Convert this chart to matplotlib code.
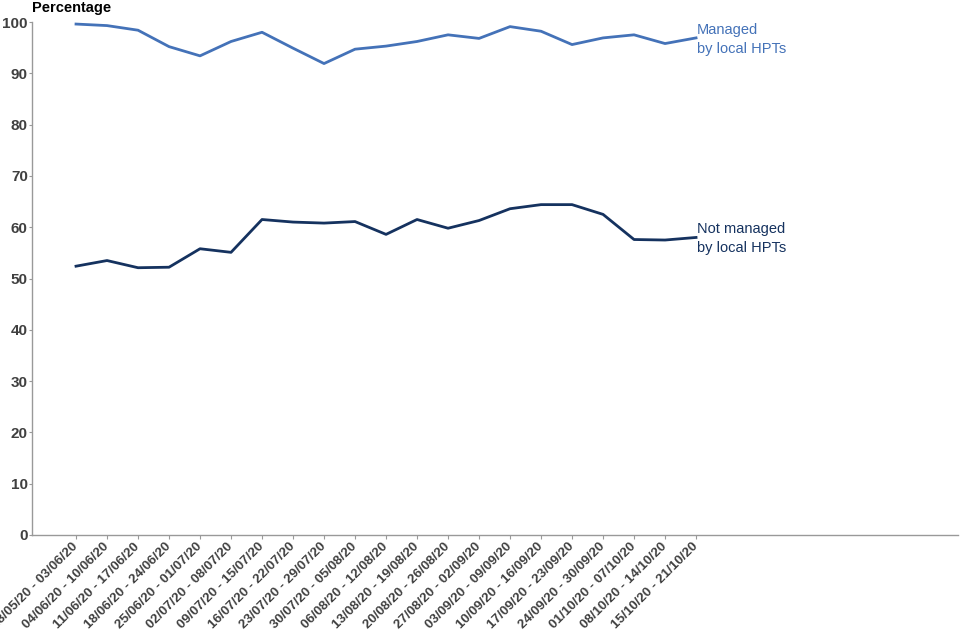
import matplotlib
matplotlib.use("Agg")
import matplotlib.pyplot as plt

plt.rcParams['font.family'] = ['Liberation Sans', 'DejaVu Sans']

weeks = ["28/05/20 - 03/06/20", "04/06/20 - 10/06/20", "11/06/20 - 17/06/20",
         "18/06/20 - 24/06/20", "25/06/20 - 01/07/20", "02/07/20 - 08/07/20",
         "09/07/20 - 15/07/20", "16/07/20 - 22/07/20", "23/07/20 - 29/07/20",
         "30/07/20 - 05/08/20", "06/08/20 - 12/08/20", "13/08/20 - 19/08/20",
         "20/08/20 - 26/08/20", "27/08/20 - 02/09/20", "03/09/20 - 09/09/20",
         "10/09/20 - 16/09/20", "17/09/20 - 23/09/20", "24/09/20 - 30/09/20",
         "01/10/20 - 07/10/20", "08/10/20 - 14/10/20", "15/10/20 - 21/10/20"]

managed = [99.6, 99.3, 98.4, 95.2, 93.4, 96.2, 98.0, 94.9, 91.9, 94.7, 95.3,
           96.2, 97.5, 96.8, 99.1, 98.2, 95.6, 96.9, 97.5, 95.8, 96.9]
not_managed = [52.4, 53.5, 52.1, 52.2, 55.8, 55.1, 61.5, 61.0, 60.8, 61.1, 58.6,
               61.5, 59.8, 61.3, 63.6, 64.4, 64.4, 62.5, 57.6, 57.5, 58.0]

c_managed = '#4472b8'
c_not = '#15325f'

fig = plt.figure(figsize=(9.6, 6.4), dpi=100)
ax = fig.add_axes([32/960, 1-535/640, (958-32)/960, (535-22)/640])

x = list(range(len(weeks)))
ax.plot(x, managed, color=c_managed, lw=2, clip_on=False)
ax.plot(x, not_managed, color=c_not, lw=2, clip_on=False)

ax.set_xlim(-1.42, 28.45)
ax.set_ylim(0, 100)
ax.set_yticks(range(0, 101, 10))
ax.set_xticks(x)
ax.set_xticklabels(weeks, rotation=45, ha='right', va='center', rotation_mode='anchor')

for s in ['top', 'right']:
    ax.spines[s].set_visible(False)
for s in ['left', 'bottom']:
    ax.spines[s].set_color('#999999')
    ax.spines[s].set_linewidth(1)

ax.tick_params(axis='y', length=2, color='#999999', pad=1, labelsize=11, labelcolor='#404040')
ax.tick_params(axis='x', length=3, color='#999999', pad=4, labelsize=9.6, labelcolor='#404040')
for lab in ax.get_xticklabels() + ax.get_yticklabels():
    lab.set_fontweight('bold')

ax.text(len(weeks) - 1 + 0.03, managed[-1] - 0.3, "Managed\nby local HPTs", color=c_managed,
        fontsize=10.5, ha='left', va='center', linespacing=1.45)
ax.text(len(weeks) - 1 + 0.03, not_managed[-1] - 0.2, "Not managed\nby local HPTs", color=c_not,
        fontsize=10.5, ha='left', va='center', linespacing=1.45)

fig.text(32/960, 1-8/640, "Percentage", fontsize=10.5, fontweight='bold', color='black',
         ha='left', va='center')

fig.savefig('out.png', dpi=100)
